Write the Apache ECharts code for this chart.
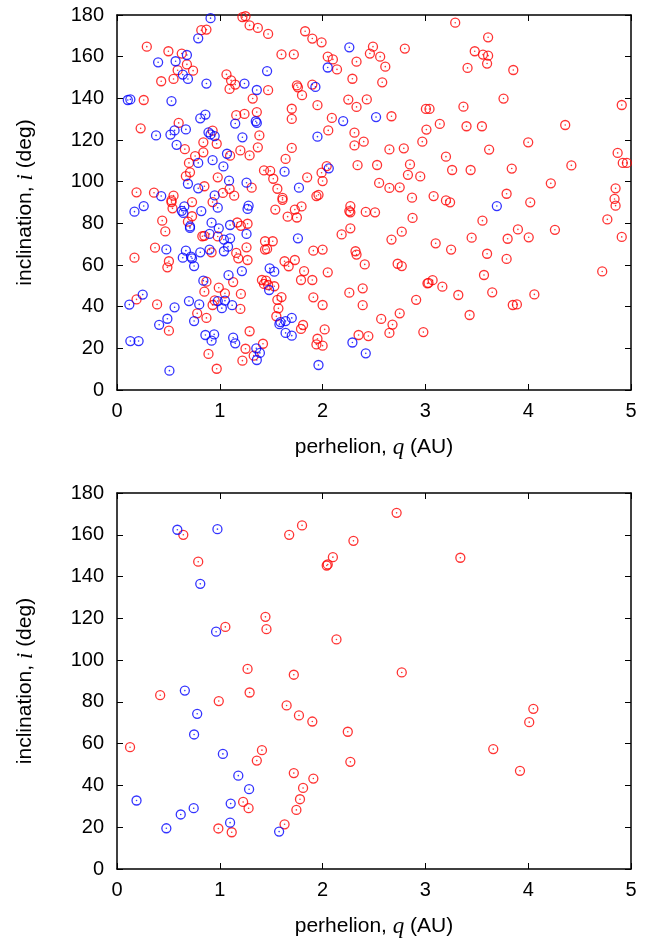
<!DOCTYPE html>
<html>
<head>
<meta charset="utf-8">
<script src="https://cdn.jsdelivr.net/npm/echarts@6/dist/echarts.min.js"></script>
<style>
  html, body { margin: 0; padding: 0; background: #fff; }
  #chart { width: 667px; height: 942px; }
</style>
</head>
<body>
<div id="chart"></div>
<script>
// top panel: [perihelion q (AU), inclination i (deg)]
const topRed = [
  [0.82,172.7],[0.87,173],[0.29,164.8],[0.50,162.6],[0.63,161.5],[0.68,156.3],[0.59,153.5],[0.74,153.3],
  [0.55,149.3],[0.43,148.2],[0.26,139.2],[0.60,128.2],[0.23,125.6],[0.93,124.5],[0.84,118.9],[0.97,118.2],
  [0.66,115.6],[0.84,114.1],[0.76,112.3],[0.70,109],[0.71,104.5],[0.67,102.7],[0.98,102.1],[0.85,97.8],
  [0.19,94.9],[0.36,94.7],[0.55,93.3],[0.53,91],[0.53,90.2],[0.73,90.2],[0.93,90.2],
  [0.54,87.2],[0.73,83.4],[0.44,81.3],[0.69,80.8],[0.47,76.1],[0.83,73.8],[0.85,74.0],[0.98,73.7],
  [0.37,68.3],[0.92,66.1],[0.17,63.5],[0.505,61.8],[0.49,58.9],[0.87,52],[0.85,47.2],[0.99,49.1],
  [0.19,43.5],[0.39,41.1],[0.95,43],[0.93,40.8],[0.78,36.8],[0.87,34.6],[0.505,28.5],[0.89,17.3],[0.97,10.2],
  [1.22,179],[1.25,179.4],[1.29,175],[1.37,173.8],[1.47,170.9],[1.83,172.2],[1.90,168.7],[1.99,166.9],
  [1.60,161.1],[1.72,161.1],[1.065,151.5],[1.11,148.6],[1.15,146.6],[1.095,144.5],[1.47,143.9],[1.75,146.2],
  [1.76,145.3],[1.80,141.5],[1.90,146.6],[1.32,139.9],[1.95,136.7],[1.70,135],[1.70,130.1],[1.36,133.4],
  [1.16,131.9],[1.24,132.5],[1.385,122.2],[1.37,116.5],[1.70,116.2],[1.20,115],[1.29,112.6],[1.10,112.5],
  [1.64,110.9],[1.43,105.4],[1.49,105.2],[1.52,101.4],[1.99,104.3],[2.00,100.3],[1.85,102.1],[1.31,97.1],
  [1.095,96.5],[1.03,94.6],[1.14,93.3],[1.56,96.6],[1.61,92.2],[1.94,93.1],[1.96,93.7],
  [1.54,86.6],[1.61,91.3],[1.66,83.2],[1.73,86.6],[1.75,82.8],[1.795,88.1],[1.17,80.4],[1.205,78.8],
  [1.27,79.8],[1.26,68.5],[1.16,65.8],[1.18,63.2],[1.27,62.4],[1.44,71.4],[1.515,71.4],[1.44,67.4],
  [1.46,67.7],[1.91,66.9],[2.00,67.4],[1.63,61.8],[1.67,59.4],[1.73,62.4],[1.13,51.8],[1.05,46.4],
  [1.205,46.1],[1.20,38.9],[1.41,52.8],[1.45,52.5],[1.43,50.9],[1.47,50.4],[1.53,49.8],[1.82,57.1],
  [1.79,52.8],[1.90,52.8],[1.56,43.3],[1.60,44.6],[1.57,39.2],[1.91,44.5],[2.00,40.8],[1.55,35.4],
  [1.81,31.2],[1.79,29.3],[1.29,28.2],[1.25,19.8],[1.33,16.5],[1.22,14.1],[1.42,22.2],[1.95,24.6],
  [1.94,21.9],[2.00,21.3],
  [2.49,164.8],[2.46,161.5],[2.56,160],[2.80,163.9],[2.05,160],[2.10,158.7],[2.14,153.9],[2.33,157.6],
  [2.61,155.2],[2.29,149.4],[2.58,147.7],[2.25,139.4],[2.43,139.5],[2.33,135.9],[3.005,134.9],[3.04,134.9],
  [2.09,130.6],[2.67,131.4],[2.055,124.6],[2.31,123.5],[2.31,117.4],[2.40,119.2],[2.65,115.5],[2.79,116],
  [2.97,119.2],[3.01,125],[2.04,107.5],[2.34,107.9],[2.53,108],[2.85,108.3],[2.83,103.3],[2.95,102.5],
  [2.55,99.4],[2.65,97],[2.75,97.3],[2.87,92.3],[2.27,88.3],
  [2.26,85.9],[2.27,85.3],[2.42,85.5],[2.51,85.3],[2.875,82.6],[2.185,74.7],[2.27,77.6],[2.77,76],
  [2.67,72.2],[2.32,66.6],[2.33,65],[2.41,60.3],[2.73,60.6],[2.77,59.5],[2.05,56.5],[2.26,46.7],
  [2.39,48.8],[2.39,40.7],[2.91,43.3],[3.02,51.2],[2.57,34.1],[2.75,36.8],[2.68,31.4],[2.65,27.4],
  [2.98,27.8],[2.02,29.1],[2.35,26.4],[2.445,25.9],
  [3.29,176.3],[3.61,169.3],[3.48,162.6],[3.56,161],[3.61,160.5],[3.60,156.7],[3.41,154.6],[3.855,153.6],
  [3.76,139.9],[3.37,136],[4.91,136.8],[3.14,127.7],[3.40,126.6],[3.55,126.6],[4.36,127.2],[4.00,118.9],
  [3.20,112],[3.62,115.4],[3.26,105.6],[3.44,105.6],[3.84,106.3],[4.42,107.8],[4.87,113.8],[4.92,109],
  [4.96,109],[4.22,99.2],[3.08,93.1],[3.20,91],[3.24,90.1],[3.79,94.2],[4.02,90.1],[4.85,96.8],
  [4.84,91.7],[4.85,88.5],
  [4.77,81.9],[4.91,73.5],[3.555,81.3],[3.90,77.1],[4.26,76.9],[3.45,73.1],[3.80,72.6],[4.005,73.3],
  [3.10,70.4],[3.25,67.4],[3.60,65.4],[3.79,62.9],[4.72,56.9],[3.57,55.2],[3.65,46.9],[3.07,52.7],
  [3.03,51.4],[3.165,49.6],[3.32,45.6],[4.06,45.9],[3.85,40.8],[3.89,41.1],[3.43,36]
];

const topBlue = [
  [0.91,178.5],[0.79,168.8],[0.68,160.8],[0.40,157.3],[0.57,157.8],[0.64,151.4],[0.69,149.3],[0.87,147.1],
  [0.105,139.2],[0.13,139.5],[0.53,138.7],[0.86,132.2],[0.81,130.4],[0.38,122.2],[0.52,122.6],[0.56,124.6],
  [0.67,125.1],[0.89,123.7],[0.91,122.7],[0.95,121.9],[0.58,117.7],[0.93,110.3],[0.79,109],[0.69,99],
  [0.79,96.8],[0.43,93.1],[0.95,93.4],[0.26,88.3],
  [0.17,85.6],[0.655,88.1],[0.63,86],[0.645,85],[0.82,85.9],[0.98,87.5],[0.71,78.5],[0.71,77.8],
  [0.92,80.3],[0.99,77.6],[0.90,74.9],[0.48,67.5],[0.67,66.9],[0.81,66.1],[0.90,67.4],[0.64,63.5],
  [0.72,64],[0.73,63.2],[0.75,59.5],[0.84,52.5],[0.25,45.8],[0.12,41],[0.56,39.7],[0.70,42.7],
  [0.80,41.1],[0.98,42.7],[1.02,39.3],[0.49,34.2],[0.41,31.3],[0.75,33.1],[0.86,26.4],[0.945,26.7],
  [0.92,23.7],[0.13,23.5],[0.21,23.5],[0.51,9.3],
  [1.46,153.1],[1.24,147.1],[1.36,144],[1.93,145.5],[1.15,127.9],[1.35,129],[1.36,128.2],[1.22,121.3],
  [1.95,121.6],[1.07,113.4],[1.035,107.3],[1.63,104.8],[1.09,100.5],[1.26,99.5],[1.77,97.1],
  [1.28,88.5],[1.27,86.9],[1.10,79.2],[1.04,72.2],[1.10,72.8],[1.08,68.8],[1.04,66.6],[1.26,74.9],
  [1.76,72.8],[1.215,57.1],[1.085,55.1],[1.05,42.9],[1.12,40.7],[1.485,58.4],[1.53,56.8],[1.48,48],
  [1.59,32.6],[1.58,31.6],[1.64,33.1],[1.70,34.6],[1.64,27.4],[1.70,26.1],[1.13,25.1],[1.15,22.4],
  [1.355,20],[1.39,17.8],[1.36,14.4],[1.96,12],
  [2.26,164.5],[2.05,154.8],[2.20,129.1],[2.52,131],[2.06,106.4],[2.29,22.8],[2.42,17.6],[3.695,88.3]
];

// bottom panel
const botRed = [
  [0.645,160],[1.675,160],[1.80,164.5],[0.79,147.1],[2.04,145.3],[2.05,145.8],[2.10,149.3],[1.444,120.7],
  [1.454,114.8],[1.054,115.9],[1.27,95.8],[1.72,93],[0.42,83.2],[1.29,84.5],[0.99,80.4],[1.65,78.3],
  [1.77,73.5],[1.90,70.6],[0.127,58.3],[1.41,56.9],[1.36,51.9],[1.72,45.9],[1.91,43.3],[1.81,38.8],
  [1.78,33.4],[1.745,28.3],[1.227,32.1],[1.28,29.1],[1.63,21.4],[0.986,19.4],[1.116,17.6],[2.72,170.5],
  [2.30,157.1],[3.34,149],[2.135,109.9],[2.77,94.1],[4.05,76.7],[4.01,70.3],[2.245,65.7],[2.27,51.3],
  [3.66,57.4],[3.92,47]
];

const botBlue = [
  [0.587,162.4],[0.977,162.7],[0.81,136.5],[0.964,113.6],[0.66,85.4],[0.78,74.3],[0.75,64.4],[1.03,55.1],
  [1.18,44.7],[1.285,38.2],[0.19,32.8],[0.746,29.1],[0.62,26.1],[1.106,31.3],[1.10,22.2],[0.48,19.5],
  [1.577,17.9]
];

const xTicks = [0, 1, 2, 3, 4, 5];
const yTicks = [0, 20, 40, 60, 80, 100, 120, 140, 160, 180];

const RED = '#ff0000';
const BLUE = '#0000ff';
const FONT = '"Liberation Sans", Arial, Helvetica, sans-serif';

const nameRich = {
  t: { fontFamily: FONT, fontSize: 21, color: '#000' },
  v: { fontFamily: '"Liberation Serif", "Times New Roman", serif', fontStyle: 'italic', fontSize: 23, color: '#000' }
};

const lineStyle = { color: '#000', width: 1.5 };

function xAxes(g) {
  return [
    {
      gridIndex: g, type: 'value', min: xTicks[0], max: xTicks[xTicks.length - 1], interval: 1,
      axisLine: { onZero: false, lineStyle },
      axisTick: { inside: true, length: 6, lineStyle: { color: '#000', width: 1 } },
      splitLine: { show: false },
      axisLabel: { fontFamily: FONT, fontSize: 20, color: '#000', margin: 11 },
      name: '{t|perhelion, }{v|q}{t| (AU)}',
      nameLocation: 'middle', nameGap: 46,
      nameTextStyle: { rich: nameRich }
    },
    {
      gridIndex: g, type: 'value', position: 'top', min: xTicks[0], max: xTicks[xTicks.length - 1], interval: 1,
      axisLine: { onZero: false, lineStyle },
      axisTick: { inside: true, length: 6, lineStyle: { color: '#000', width: 1 } },
      splitLine: { show: false },
      axisLabel: { show: false }
    }
  ];
}

function yAxes(g) {
  return [
    {
      gridIndex: g, type: 'value', min: yTicks[0], max: yTicks[yTicks.length - 1], interval: 20,
      axisLine: { onZero: false, lineStyle },
      axisTick: { inside: true, length: 6, lineStyle: { color: '#000', width: 1 } },
      splitLine: { show: false },
      axisLabel: { fontFamily: FONT, fontSize: 20, color: '#000', margin: 13 },
      name: '{t|inclination, }{v|i}{t| (deg)}',
      nameLocation: 'middle', nameGap: 80,
      nameTextStyle: { rich: nameRich }
    },
    {
      gridIndex: g, type: 'value', position: 'right', min: yTicks[0], max: yTicks[yTicks.length - 1], interval: 20,
      axisLine: { onZero: false, lineStyle },
      axisTick: { inside: true, length: 6, lineStyle: { color: '#000', width: 1 } },
      splitLine: { show: false },
      axisLabel: { show: false }
    }
  ];
}

function rings(data, color, xi, yi) {
  return [
    {
      type: 'scatter', xAxisIndex: xi, yAxisIndex: yi, data, symbol: 'circle', symbolSize: 9,
      itemStyle: { color: 'rgba(0,0,0,0)', borderColor: color, borderWidth: 1.3 },
      silent: true, animation: false
    },
    {
      type: 'scatter', xAxisIndex: xi, yAxisIndex: yi, data, symbol: 'circle', symbolSize: 1.6,
      itemStyle: { color }, silent: true, animation: false
    }
  ];
}

const chart = echarts.init(document.getElementById('chart'), null, { renderer: 'canvas' });
chart.setOption({
  backgroundColor: '#fff',
  animation: false,
  grid: [
    { left: 117, top: 15, width: 514, height: 375 },
    { left: 117, top: 493, width: 514, height: 376 }
  ],
  xAxis: [...xAxes(0), ...xAxes(1)],
  yAxis: [...yAxes(0), ...yAxes(1)],
  series: [
    ...rings(topRed, RED, 0, 0),
    ...rings(topBlue, BLUE, 0, 0),
    ...rings(botRed, RED, 2, 2),
    ...rings(botBlue, BLUE, 2, 2)
  ]
});
</script>
</body>
</html>
